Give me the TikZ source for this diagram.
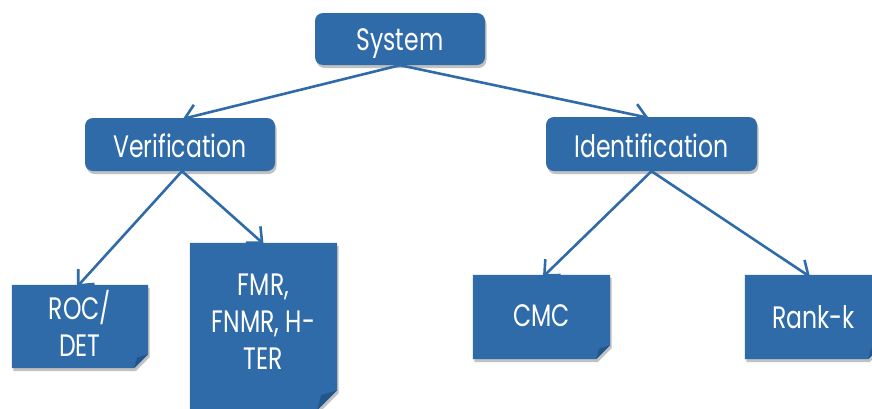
\documentclass[tikz,border=0pt]{standalone}
\usepackage{fontspec}
\setmainfont[FakeStretch=0.76]{Poppins}
\usetikzlibrary{arrows.meta,shadows}
\definecolor{boxblue}{HTML}{2E6BA8}
\definecolor{foldblue}{HTML}{22558C}
\tikzset{
  shad/.style={drop shadow={shadow xshift=1.5pt,shadow yshift=-3pt,opacity=0.35,fill=black!70}},
  roundbox/.style={rectangle,rounded corners=8pt,fill=boxblue,shad,inner sep=0pt},
  boxtext/.style={text=white,font=\fontsize{31}{36}\selectfont,inner sep=0pt},
  notetext/.style={rectangle,text=white,font=\fontsize{31}{37}\selectfont,
    align=center,inner sep=0pt},
  conn/.style={draw=boxblue,line width=2.6pt,-{Straight Barb[length=12pt,width=22pt,line width=2.6pt]}}
}
\newcommand{\notebox}[2]{% name, fold size
  \fill[boxblue,shad] (#1.north west) -- (#1.north east) -- ([yshift=#2]#1.south east)
    -- ([xshift=-#2]#1.south east) -- (#1.south west) -- cycle;
  \fill[foldblue] ([yshift=#2]#1.south east) -- ([xshift=-#2]#1.south east)
    -- ([xshift=-0.8*#2,yshift=0.75*#2]#1.south east) -- cycle;
}
\begin{document}
\begin{tikzpicture}[x=1pt,y=-1pt]
\useasboundingbox (0,0) rectangle (872,408);
\clip (0,0) rectangle (872,408);
% rounded boxes
\node[roundbox,minimum width=170pt,minimum height=52pt] (sys) at (400,39) {};
\node[roundbox,minimum width=190pt,minimum height=53pt] (ver) at (180,144.5) {};
\node[roundbox,minimum width=211pt,minimum height=54pt] (ide) at (651.5,144) {};
\node[boxtext] (syst) at ([yshift=-5pt]sys.center) {System};
\node[boxtext] (vert) at ([yshift=-1pt]ver.center) {Verification};
\node[boxtext] (idet) at ([yshift=-2pt]ide.center) {Identification};
% note boxes (geometry)
\node[minimum width=136pt,minimum height=83pt,inner sep=0pt] (roc) at (80,326.5) {};
\node[minimum width=147pt,minimum height=167pt,inner sep=0pt] (fmr) at (263.5,326.5) {};
\node[minimum width=137pt,minimum height=84pt,inner sep=0pt] (cmc) at (541.5,317) {};
\node[minimum width=137pt,minimum height=84pt,inner sep=0pt] (rnk) at (813.5,317) {};
\notebox{roc}{14pt}
\notebox{fmr}{20pt}
\notebox{cmc}{14pt}
\notebox{rnk}{14pt}
\node[notetext] (roct) at ([yshift=3pt]roc.center) {ROC/\\DET};
\node[notetext] (fmrt) at ([yshift=5pt]fmr.center) {FMR,\\FNMR, H-\\TER};
\node[notetext] (cmct) at ([yshift=1pt]cmc.center) {CMC};
\node[notetext] (rnkt) at ([yshift=0pt]rnk.center) {Rank-k};
% connectors
\coordinate (sysb) at (sys.south);
\coordinate (verb) at ([xshift=2pt]ver.south);
\coordinate (ideb) at ([xshift=0pt]ide.south);
\draw[conn] (sysb) -- ([xshift=3pt,yshift=-1pt]ver.north);
\draw[conn] (sysb) -- ([xshift=-3pt,yshift=-1pt]ide.north);
\draw[conn] (verb) -- ([xshift=-3pt,yshift=-2pt]roc.north);
\draw[conn] (verb) -- ([yshift=-1pt]fmr.north);
\draw[conn] (ideb) -- ([xshift=1.5pt,yshift=-2pt]cmc.north);
\draw[conn] (ideb) -- ([xshift=-3.5pt,yshift=-2pt]rnk.north);
\end{tikzpicture}
\end{document}
